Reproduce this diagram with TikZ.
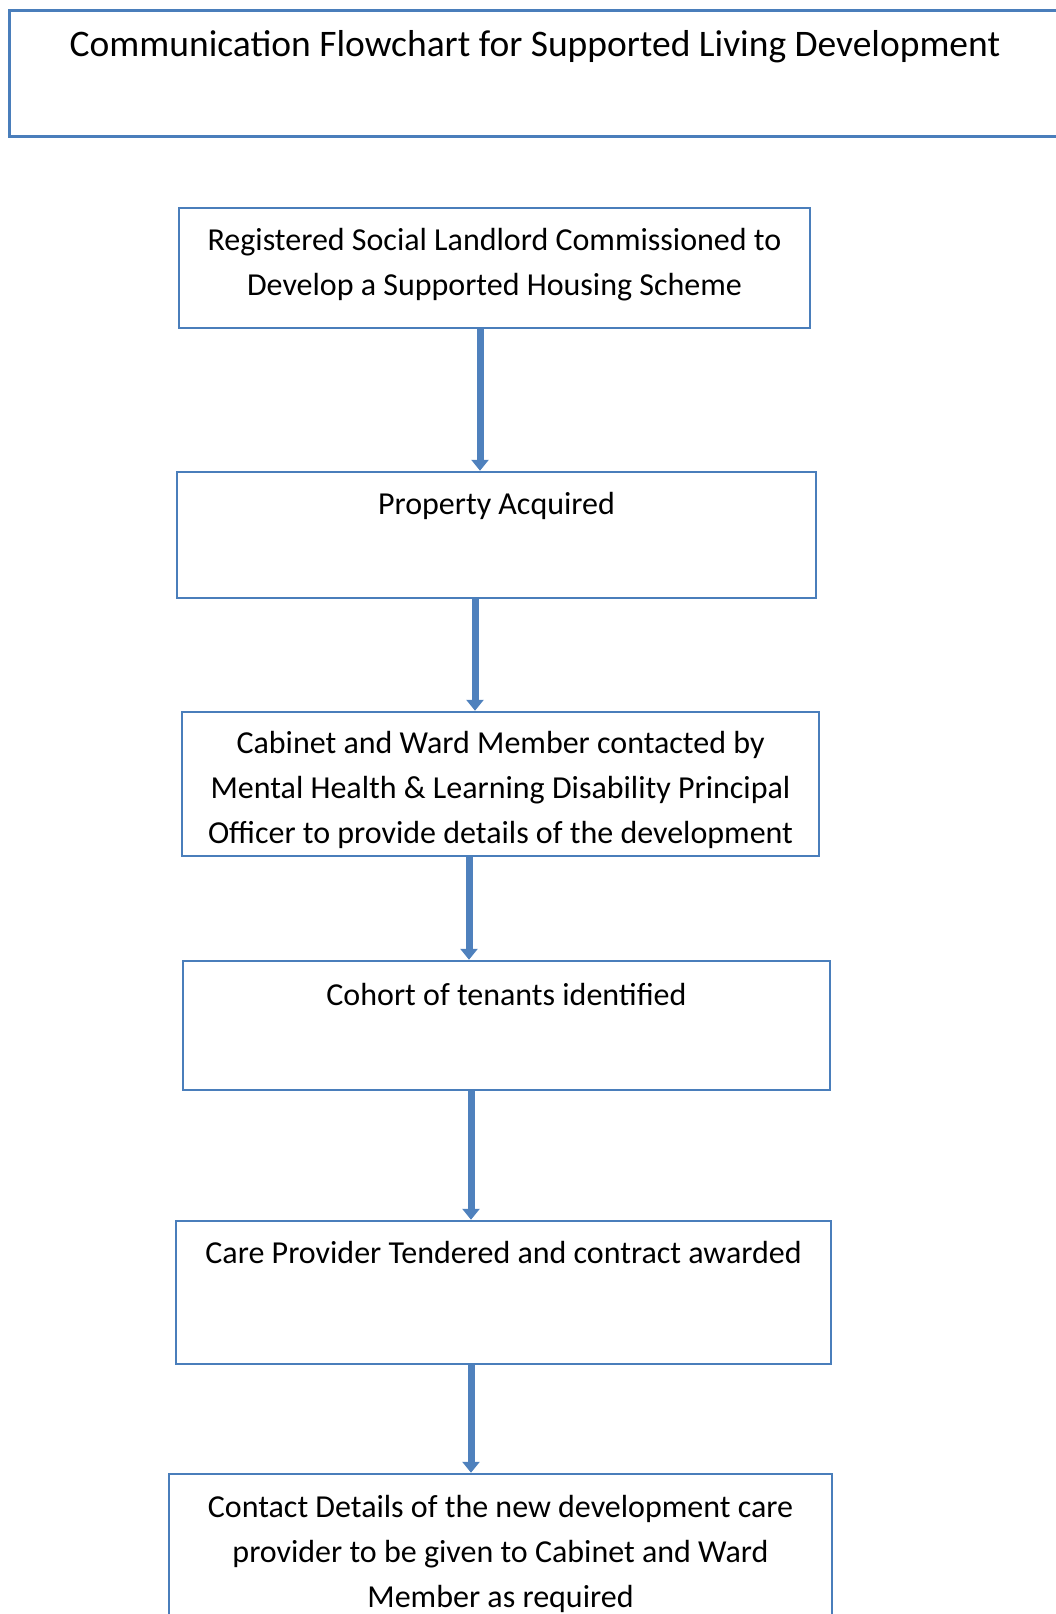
\documentclass[tikz,border=0pt]{standalone}
\usepackage{fontspec}
\setmainfont{Carlito}
\usetikzlibrary{arrows.meta,positioning}
\definecolor{fcblue}{HTML}{4A7EBB}
\definecolor{fcline}{HTML}{4F81BD}
\tikzset{
  box/.style={draw=fcblue,line width=2.5pt,rectangle,inner sep=0pt},
  txt/.style={align=center,inner sep=0pt,font=\fontsize{32pt}{45pt}\selectfont},
  ttl/.style={inner sep=0pt,font=\fontsize{37.5pt}{42pt}\selectfont},
  flow/.style={-{Triangle[width=17pt,length=11pt]},line width=7pt,fcline},
}

\begin{document}
\begin{tikzpicture}[x=1pt,y=-1pt]
  \useasboundingbox (0,0) rectangle (1056,1614);
  % title
  \node[box,minimum width=1100pt,minimum height=126pt,anchor=north west] (title) at (8,9) {};
  \node[ttl] (title-t) at (535,47) {Communication Flowchart for Supported Living Development};
  % steps
  \node[box,minimum width=631pt,minimum height=120pt] (rsl) at (494.5,268) {};
  \node[txt,below=21pt of rsl.north] (rsl-t) {Registered Social Landlord Commissioned to\\Develop a Supported Housing Scheme};
  \node[box,minimum width=639pt,minimum height=126pt] (prop) at (496.5,535) {};
  \node[txt,below=21pt of prop.north] (prop-t) {Property Acquired};
  \node[box,minimum width=637pt,minimum height=144pt] (cab) at (500.5,784) {};
  \node[txt,below=20pt of cab.north] (cab-t) {Cabinet and Ward Member contacted by\\Mental Health \& Learning Disability Principal\\Officer to provide details of the development};
  \node[box,minimum width=647pt,minimum height=129pt] (cohort) at (506.5,1025.5) {};
  \node[txt,below=23pt of cohort.north] (cohort-t) {Cohort of tenants identified};
  \node[box,minimum width=655pt,minimum height=143pt] (care) at (503.5,1292.5) {};
  \node[txt,below=21pt of care.north] (care-t) {Care Provider Tendered and contract awarded};
  \node[box,minimum width=663pt,minimum height=200pt] (contact) at (500.5,1574) {};
  \node[txt,below=22pt of contact.north] (contact-t) {Contact Details of the new development care\\provider to be given to Cabinet and Ward\\Member as required};
  % arrows
  \draw[flow] ([xshift=-14.5pt]rsl.south) -- ([xshift=-14.5pt]rsl.south |- prop.north);
  \draw[flow] ([xshift=-21.5pt]prop.south) -- ([xshift=-21.5pt]prop.south |- cab.north);
  \draw[flow] ([xshift=-31.5pt]cab.south) -- ([xshift=-31.5pt]cab.south |- cohort.north);
  \draw[flow] ([xshift=-35.5pt]cohort.south) -- ([xshift=-35.5pt]cohort.south |- care.north);
  \draw[flow] ([xshift=-32.5pt]care.south) -- ([xshift=-32.5pt]care.south |- contact.north);
\end{tikzpicture}
\end{document}
